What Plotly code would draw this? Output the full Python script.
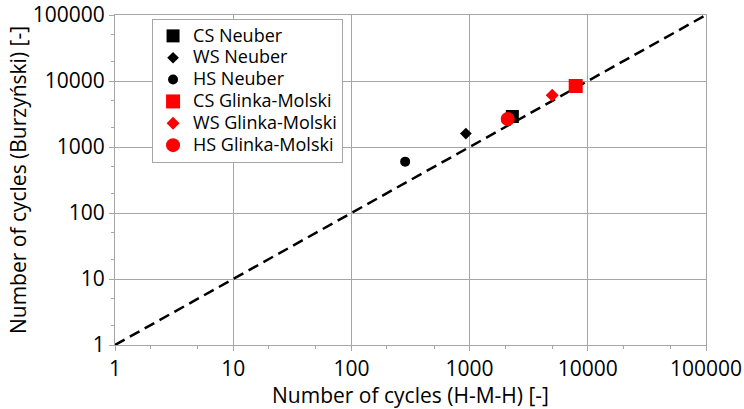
import plotly.graph_objects as go

series_names = ["CS Neuber", "WS Neuber", "HS Neuber",
                "CS Glinka-Molski", "WS Glinka-Molski", "HS Glinka-Molski"]
x_hmh = [2300, 930, 285, 7900, 5000, 2100]
y_burz = [2900, 1600, 600, 8400, 6100, 2650]
symbols = ["square", "diamond", "circle", "square", "diamond", "circle"]
colors = ["black", "black", "black", "red", "red", "red"]
sizes = [13, 9, 10, 14, 10, 14]
line_x = [1, 100000]
line_y = [1, 100000]
tick_vals = [1, 10, 100, 1000, 10000, 100000]
tick_text = ["1", "10", "100", "1000", "10000", "100000"]

FONT = "Open Sans"

fig = go.Figure()
fig.add_trace(go.Scatter(x=line_x, y=line_y, mode="lines", showlegend=False,
                         line=dict(color="black", width=2.5, dash="11px,6px")))
for n, xv, yv, s, c, sz in zip(series_names, x_hmh, y_burz, symbols, colors, sizes):
    fig.add_trace(go.Scatter(x=[xv], y=[yv], mode="markers",
                             name='<span style="font-size:18px">' + n + '</span>',
                             marker=dict(symbol=s, color=c, size=sz)))

axis_common = dict(type="log", tickvals=tick_vals, ticktext=tick_text,
                   showgrid=True, gridcolor="#a6a6a6", gridwidth=1,
                   showline=True, linecolor="#a6a6a6", linewidth=1, mirror=True,
                   ticks="outside", ticklen=5, tickcolor="#a6a6a6",
                   tickfont=dict(size=21, color="black", family=FONT),
                   zeroline=False, automargin=False,
                   minor=dict(ticks="outside", ticklen=3, tickcolor="#a6a6a6", showgrid=False))

fig.update_xaxes(range=[0, 5], title=dict(text="Number of cycles (H-M-H) [-]",
                 font=dict(size=21, color="black", family=FONT), standoff=4), **axis_common)
fig.update_yaxes(range=[0, 5], title=dict(text="Number of cycles (Burzyński) [-]",
                 font=dict(size=21, color="black", family=FONT), standoff=0), **axis_common)

fig.update_layout(
    width=744, height=409,
    margin=dict(l=115, r=38, t=15, b=64),
    plot_bgcolor="white", paper_bgcolor="white",
    font=dict(family=FONT, color="black"),
    legend=dict(x=0.0627, y=0.988, xanchor="left", yanchor="top",
                bgcolor="white", bordercolor="#a6a6a6", borderwidth=1,
                font=dict(size=14.5, color="black", family=FONT),
                tracegroupgap=0, itemwidth=30),
)
fig.write_html("out.html")
